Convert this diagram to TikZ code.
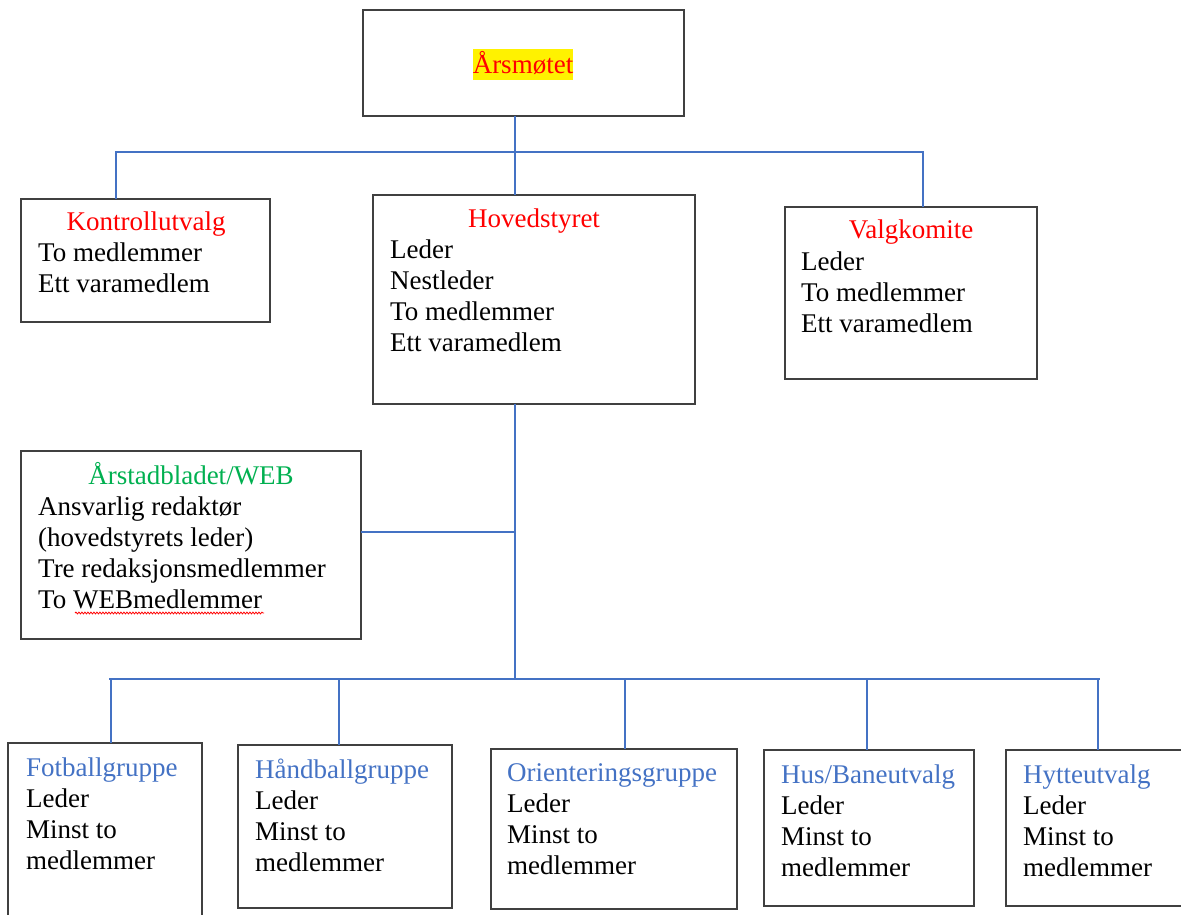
\documentclass[tikz,border=0pt]{standalone}
\usepackage{fontspec}
\setmainfont{Liberation Serif}
\usetikzlibrary{decorations.pathmorphing}
\definecolor{wred}{HTML}{FF0000}
\definecolor{wgreen}{HTML}{00B050}
\definecolor{wblue}{HTML}{4472C4}
\definecolor{bord}{HTML}{404040}
\newcommand{\firstln}{\rule{0pt}{26pt}}
\begin{document}
\begin{tikzpicture}[x=1pt,y=-1pt,
  box/.style={draw=bord, line width=1.4pt, inner sep=0pt, outer sep=0pt, anchor=north west},
  txt/.style={anchor=north west, inner sep=0pt, align=left, font=\fontsize{27}{31}\selectfont},
  ttl/.style={anchor=base, inner sep=0pt, font=\fontsize{27}{31}\selectfont},
  conn/.style={draw=wblue, line width=2pt}]
\useasboundingbox (0,0) rectangle (1181,915);
% boxes
\node[box, minimum width=321pt, minimum height=106pt] (arsm) at (363,10) {};
\node[box, minimum width=249pt, minimum height=123pt] (kont) at (21,199) {};
\node[box, minimum width=322pt, minimum height=209pt] (hoved) at (373,195) {};
\node[box, minimum width=252pt, minimum height=172pt] (valg) at (785,207) {};
\node[box, minimum width=340pt, minimum height=188pt] (aars) at (21,451) {};
\node[box, minimum width=194pt, minimum height=185pt] (fot) at (8,743) {};
\node[box, minimum width=214pt, minimum height=163pt] (hand) at (238,745) {};
\node[box, minimum width=246pt, minimum height=160pt] (orient) at (491,749) {};
\node[box, minimum width=210pt, minimum height=156pt] (hus) at (764,750) {};
\node[box, minimum width=190pt, minimum height=156pt] (hytte) at (1006,750) {};
% texts
\node[ttl, text=wred, fill=yellow, text height=25pt, text depth=6pt] (arsmT) at (523,74) {Årsmøtet};
\node[ttl, text=wred] (kontT) at (146,230) {Kontrollutvalg};
\node[txt] (kontL) at (38,235) {\firstln To medlemmer\\Ett varamedlem};
\node[ttl, text=wred] (hovedT) at (534,227) {Hovedstyret};
\node[txt] (hovedL) at (390,232) {\firstln Leder\\Nestleder\\To medlemmer\\Ett varamedlem};
\node[ttl, text=wred] (valgT) at (911,238) {Valgkomite};
\node[txt] (valgL) at (801,244) {\firstln Leder\\To medlemmer\\Ett varamedlem};
\node[ttl, text=wgreen] (aarsT) at (191,484) {Årstadbladet/WEB};
\node[txt] (aarsL) at (38,489) {\firstln Ansvarlig redaktør\\(hovedstyrets leder)\\Tre redaksjonsmedlemmer\\To WEBmedlemmer};
\node[txt] (fotL) at (26,750) {\firstln\textcolor{wblue}{Fotballgruppe}\\Leder\\Minst to\\medlemmer};
\node[txt] (handL) at (255,752) {\firstln\textcolor{wblue}{Håndballgruppe}\\Leder\\Minst to\\medlemmer};
\node[txt] (orientL) at (507,755) {\firstln\textcolor{wblue}{Orienteringsgruppe}\\Leder\\Minst to\\medlemmer};
\node[txt] (husL) at (781,757) {\firstln\textcolor{wblue}{Hus/Baneutvalg}\\Leder\\Minst to\\medlemmer};
\node[txt] (hytteL) at (1023,757) {\firstln\textcolor{wblue}{Hytteutvalg}\\Leder\\Minst to\\medlemmer};
% spell-check underline
\draw[wred, line width=0.8pt, decorate, decoration={snake, amplitude=0.9pt, segment length=3pt}] (75,613) -- (264,613);
% connectors
\coordinate (b1L) at (116,152);
\coordinate (b1R) at (923,152);
\coordinate (b1C) at (515,152);
\coordinate (j1) at (515,532);
\coordinate (b2C) at (515,679);
\coordinate (b2L) at (109,679);
\coordinate (b2R) at (1100,679);
\coordinate (d1) at (111,679);
\coordinate (d2) at (339,679);
\coordinate (d3) at (625,679);
\coordinate (d4) at (867,679);
\coordinate (d5) at (1098,679);
\draw[conn] (arsm.south -| b1C) -- (hoved.north -| b1C);
\draw[conn] (kont.north -| b1L) -- (b1L) -- (b1R) -- (valg.north -| b1R);
\draw[conn] (hoved.south -| b1C) -- (b2C);
\draw[conn] (aars.east |- j1) -- (j1);
\draw[conn] (b2L) -- (b2R);
\draw[conn] (d1) -- (fot.north -| d1);
\draw[conn] (d2) -- (hand.north -| d2);
\draw[conn] (d3) -- (orient.north -| d3);
\draw[conn] (d4) -- (hus.north -| d4);
\draw[conn] (d5) -- (hytte.north -| d5);
\end{tikzpicture}
\end{document}
